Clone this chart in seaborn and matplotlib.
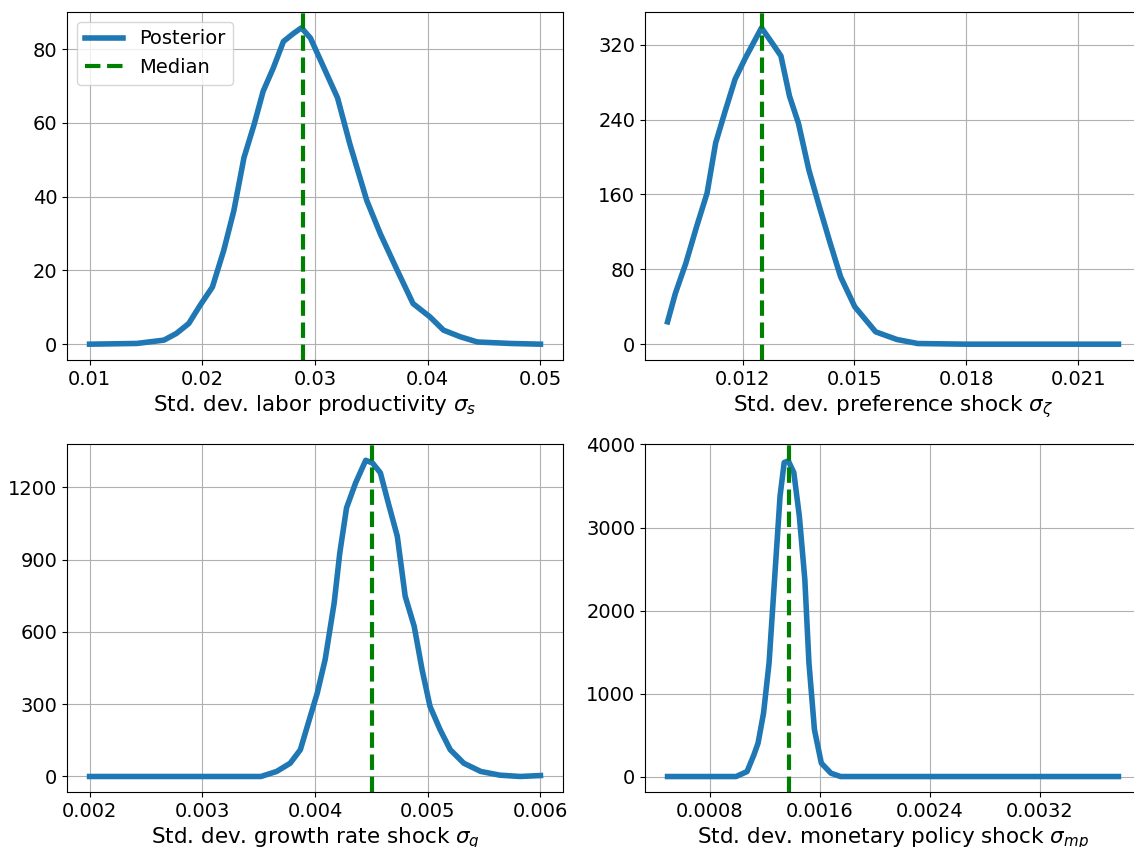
import numpy as np
import pandas as pd
import matplotlib
matplotlib.use("Agg")
import matplotlib.pyplot as plt
import seaborn as sns

# ---------------- data ----------------
x_labor = [0.0100, 0.0142, 0.0166, 0.0177, 0.0188, 0.0198, 0.0209, 0.0219, 0.0228,
           0.0237, 0.0246, 0.0254, 0.0263, 0.0272, 0.0281, 0.0288, 0.0296, 0.0308,
           0.0320, 0.0331, 0.0346, 0.0358, 0.0373, 0.0387, 0.0402, 0.0414, 0.0429,
           0.0444, 0.0473, 0.0500]
y_labor = [0.0, 0.2, 1.1, 2.9, 5.6, 10.5, 15.5, 25.4, 36.2,
           50.6, 59.6, 68.6, 74.9, 82.1, 84.3, 85.8, 83.0, 74.9,
           66.8, 54.2, 38.9, 29.9, 20.0, 11.0, 7.4, 3.8, 2.0,
           0.6, 0.2, 0.0]
median_labor = 0.0289

x_pref = [0.00999, 0.01020, 0.01048, 0.01077, 0.01105, 0.01128, 0.01152, 0.01180,
          0.01208, 0.01251, 0.01279, 0.01303, 0.01326, 0.01350, 0.01378, 0.01406,
          0.01435, 0.01463, 0.01501, 0.01557, 0.01614, 0.01670, 0.01800, 0.02208]
y_pref = [23.9, 54.3, 86.4, 125.7, 161.4, 215.0, 247.0, 283.0,
          306.0, 338.0, 322.0, 308.0, 265.0, 236.0, 186.0, 147.0,
          108.0, 72.0, 40.0, 13.2, 5.0, 0.7, 0.0, 0.0]
median_pref = 0.01252

x_growth = [0.00200, 0.00352, 0.00366, 0.00378, 0.00387, 0.00394, 0.00402, 0.00409,
            0.00417, 0.00422, 0.00428, 0.00436, 0.00445, 0.00451, 0.00458, 0.00465,
            0.00473, 0.00480, 0.00488, 0.00495, 0.00502, 0.00511, 0.00520, 0.00532,
            0.00547, 0.00564, 0.00582, 0.00600]
y_growth = [0, 0, 21, 55, 111, 221, 346, 485,
            720, 928, 1115, 1218, 1312, 1301, 1260, 1135,
            997, 748, 623, 443, 291, 194, 111, 55,
            21, 5.5, 0, 4]
median_growth = 0.004506

x_mp = [0.000492, 0.000990, 0.001070, 0.001120, 0.001150, 0.001190, 0.001230,
        0.001270, 0.001310, 0.001340, 0.001370, 0.001410, 0.001450, 0.001490,
        0.001520, 0.001560, 0.001610, 0.001680, 0.001750, 0.003770]
y_mp = [0, 0, 60, 262, 402, 765, 1368,
        2374, 3380, 3783, 3803, 3662, 3139, 2374,
        1368, 563, 161, 40, 0, 0]
median_mp = 0.001374

labels = ["Std. dev. labor productivity $\\sigma_s$",
          "Std. dev. preference shock $\\sigma_\\zeta$",
          "Std. dev. growth rate shock $\\sigma_g$",
          "Std. dev. monetary policy shock $\\sigma_{mp}$"]

xticks = [[0.01, 0.02, 0.03, 0.04, 0.05],
          [0.012, 0.015, 0.018, 0.021],
          [0.002, 0.003, 0.004, 0.005, 0.006],
          [0.0008, 0.0016, 0.0024, 0.0032]]
xticklabels = [["0.01", "0.02", "0.03", "0.04", "0.05"],
               ["0.012", "0.015", "0.018", "0.021"],
               ["0.002", "0.003", "0.004", "0.005", "0.006"],
               ["0.0008", "0.0016", "0.0024", "0.0032"]]
yticks = [[0, 20, 40, 60, 80],
          [0, 80, 160, 240, 320],
          [0, 300, 600, 900, 1200],
          [0, 1000, 2000, 3000, 4000]]

# ---------------- plot ----------------
plt.rcParams["font.family"] = ["DejaVu Sans"]
plt.rcParams["font.size"] = 14

W, H = 1134, 847
fig = plt.figure(figsize=(W / 100, H / 100), dpi=100)

def rect(x0, x1, ytop, ybot):
    return [x0 / W, (H - ybot) / H, (x1 - x0) / W, (ybot - ytop) / H]

rects = [rect(67, 563, 12, 360), rect(645, 1141, 12, 360),
         rect(67, 563, 444.5, 792.3), rect(645, 1141, 444.5, 792.3)]

series = [(x_labor, y_labor, median_labor),
          (x_pref, y_pref, median_pref),
          (x_growth, y_growth, median_growth),
          (x_mp, y_mp, median_mp)]

for i, (r, (xs, ys, med)) in enumerate(zip(rects, series)):
    ax = fig.add_axes(r)
    df = pd.DataFrame({"x": xs, "y": ys})
    sns.lineplot(data=df, x="x", y="y", ax=ax, color="#1f77b4", lw=4,
                 label="Posterior", legend=False, sort=False,
                 solid_joinstyle="round")
    ax.axvline(med, color="green", ls="--", lw=3, label="Median")
    ax.grid(True, color="#b0b0b0", lw=0.8)
    ax.set_axisbelow(True)
    ax.set_xticks(xticks[i])
    ax.set_xticklabels(xticklabels[i])
    ax.set_yticks(yticks[i])
    ax.set_xlabel(labels[i], fontsize=15.5, labelpad=3)
    ax.set_ylabel("")
    ax.tick_params(labelsize=14)
    if i == 3:
        ax.set_ylim(-190, 4000)
    if i == 0:
        ax.legend(loc="upper left", fontsize=14)

fig.savefig("out.png", dpi=100)
